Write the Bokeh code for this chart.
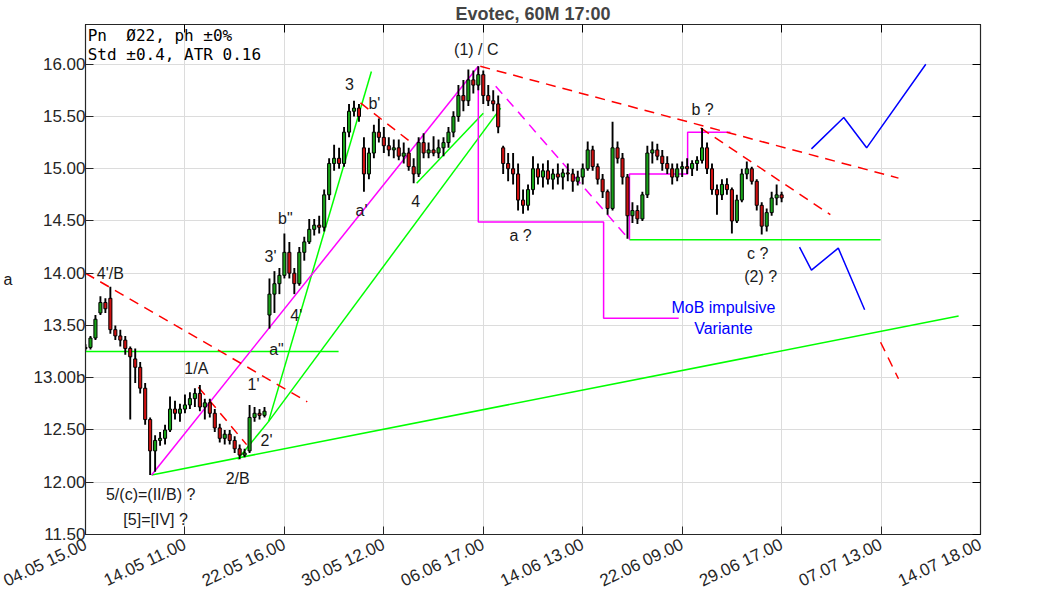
import numpy as np
from bokeh.plotting import figure
from bokeh.models import (FixedTicker, LinearAxis, Range1d, Label, ColumnDataSource,
                          CustomJSTickFormatter, NumeralTickFormatter)
from bokeh.core.properties import value
from bokeh.embed import file_html
from bokeh.resources import INLINE

# ---------------- data ----------------
opens = [13.29,13.29,13.38,13.62,13.72,13.76,13.46,13.40,13.36,13.28,
         13.18,13.10,12.90,12.60,12.30,12.40,12.42,12.50,12.70,12.66,
         12.70,12.74,12.80,12.85,12.72,12.76,12.66,12.52,12.42,12.46,
         12.40,12.32,12.26,12.30,12.62,12.66,12.64,13.60,13.80,13.90,
         13.98,14.20,14.00,13.90,14.20,14.30,14.42,14.46,14.44,14.75,
         15.05,15.10,15.05,15.35,15.55,15.58,15.20,14.95,15.15,15.35,
         15.30,15.22,15.18,15.20,15.12,15.15,15.02,14.95,15.25,15.15,
         15.18,15.15,15.20,15.25,15.35,15.50,15.70,15.65,15.85,15.80,
         15.90,15.70,15.65,15.62,15.20,15.05,15.00,14.95,14.70,14.65,
         14.80,15.00,14.92,14.98,14.90,14.95,14.92,14.96,14.95,14.88,
         14.92,15.00,15.18,15.02,14.90,14.78,14.62,15.20,15.10,14.92,
         14.55,14.60,14.52,14.75,15.15,15.18,15.12,15.05,15.00,14.92,
         15.00,15.02,15.00,15.05,15.08,15.20,15.00,14.80,14.75,14.85,
         14.80,14.50,14.70,14.95,15.00,14.88,14.65,14.45,14.58,14.72,
         14.75]
highs = [13.32,13.40,13.60,13.78,13.76,13.87,13.50,13.46,13.40,13.30,
         13.28,13.15,12.95,12.62,12.45,12.48,12.55,12.82,12.78,12.75,
         12.84,12.86,12.90,12.93,12.80,12.80,12.70,12.56,12.50,12.50,
         12.44,12.36,12.32,12.74,12.72,12.70,12.72,13.95,14.02,14.05,
         14.38,14.30,14.05,14.25,14.35,14.52,14.52,14.55,14.80,15.10,
         15.23,15.20,15.40,15.62,15.65,15.62,15.30,15.20,15.42,15.48,
         15.40,15.30,15.28,15.28,15.25,15.20,15.10,15.30,15.34,15.25,
         15.31,15.28,15.30,15.40,15.55,15.80,15.85,15.95,15.94,15.98,
         15.94,15.80,15.75,15.70,15.22,15.15,15.15,15.05,14.80,14.85,
         15.12,15.05,15.05,15.08,15.00,15.05,15.00,15.05,15.00,14.98,
         15.05,15.26,15.22,15.05,14.95,14.80,15.45,15.26,15.15,14.95,
         14.68,14.65,14.78,15.22,15.26,15.24,15.18,15.12,15.05,15.05,
         15.07,15.10,15.08,15.12,15.39,15.25,15.05,14.85,14.90,14.91,
         14.82,14.75,15.00,15.07,15.02,14.90,14.68,14.62,14.78,14.85,
         14.78]
lows = [13.26,13.27,13.36,13.60,13.62,13.42,13.36,13.30,13.22,12.60,
        12.95,12.85,12.55,12.07,12.10,12.35,12.36,12.48,12.60,12.58,
        12.66,12.70,12.72,12.68,12.60,12.62,12.48,12.38,12.36,12.36,
        12.28,12.22,12.24,12.28,12.58,12.60,12.62,13.47,13.62,13.80,
        13.95,13.95,13.80,13.88,14.12,14.28,14.36,14.38,14.40,14.70,
        14.98,15.00,15.02,15.30,15.50,15.45,14.78,14.90,15.10,15.25,
        15.15,15.12,15.10,15.08,15.05,14.98,14.86,14.92,15.10,15.10,
        15.12,15.10,15.12,15.20,15.30,15.45,15.55,15.60,15.72,15.75,
        15.62,15.60,15.55,15.34,14.95,14.88,14.85,14.60,14.57,14.60,
        14.75,14.85,14.82,14.85,14.80,14.85,14.80,14.88,14.78,14.84,
        14.85,14.98,14.98,14.85,14.72,14.56,14.60,15.05,14.85,14.33,
        14.48,14.47,14.50,14.72,15.05,15.08,14.98,14.95,14.85,14.88,
        14.92,14.95,14.93,14.98,15.05,14.95,14.75,14.56,14.70,14.75,
        14.38,14.48,14.68,14.90,14.85,14.60,14.37,14.40,14.55,14.65,
        14.68]
closes = [13.28,13.38,13.56,13.72,13.66,13.46,13.40,13.36,13.28,13.20,
          13.10,12.90,12.60,12.30,12.40,12.42,12.50,12.70,12.66,12.70,
          12.74,12.80,12.85,12.72,12.76,12.66,12.52,12.42,12.46,12.40,
          12.32,12.26,12.28,12.62,12.66,12.64,12.68,13.80,13.90,13.98,
          14.20,14.00,13.90,14.20,14.30,14.42,14.46,14.44,14.75,15.05,
          15.10,15.05,15.35,15.55,15.58,15.50,14.95,15.15,15.35,15.30,
          15.22,15.18,15.20,15.12,15.15,15.02,14.95,15.25,15.15,15.18,
          15.15,15.20,15.25,15.35,15.50,15.70,15.65,15.85,15.80,15.90,
          15.70,15.65,15.62,15.40,15.05,15.00,14.95,14.70,14.65,14.80,
          15.00,14.92,14.98,14.90,14.95,14.92,14.96,14.95,14.88,14.92,
          15.00,15.18,15.02,14.90,14.78,14.62,15.20,15.10,14.92,14.55,
          14.60,14.52,14.75,15.15,15.18,15.12,15.05,15.00,14.92,15.00,
          15.02,15.00,15.05,15.08,15.20,15.00,14.80,14.75,14.85,14.80,
          14.50,14.70,14.95,15.00,14.88,14.65,14.45,14.58,14.72,14.75,
          14.72]

x_ticks = [0, 20, 40, 60, 80, 100, 120, 140, 160, 180]
x_labels = ["04.05 15.00", "14.05 11.00", "22.05 16.00", "30.05 12.00", "06.06 17.00",
            "14.06 13.00", "22.06 09.00", "29.06 17.00", "07.07 13.00", "14.07 18.00"]
y_ticks = [11.5, 12.0, 12.5, 13.0, 13.5, 14.0, 14.5, 15.0, 15.5, 16.0]

# trend lines (data units)
red_x = [[0, 44.6], [22.7, 32.4], [55.3, 65.8], [79.4, 163.5], [123.7, 149.8], [159.9, 163.5]]
red_y = [[14.00, 12.77], [12.91, 12.36], [15.63, 15.24], [15.98, 14.91], [15.39, 14.56], [13.34, 12.99]]
green_x = [[0, 50.9], [13.3, 175.6], [30.6, 36.8], [36.8, 83.5], [36.8, 57.5], [66.6, 80.0], [109.4, 159.9]]
green_y = [[13.25, 13.25], [12.07, 13.59], [12.22, 12.58], [12.58, 15.58], [12.58, 15.93], [14.86, 15.53], [14.32, 14.32]]
mag_x = [[13.3, 79.0], [79.0, 79.0, 104.2, 104.2, 119.3], [109.4, 109.4, 121.1, 121.1, 129.7]]
mag_y = [[12.07, 15.98], [15.98, 14.49, 14.49, 13.57, 13.57], [14.32, 14.95, 14.95, 15.35, 15.35]]
magdash_x = [82.5, 109.4]
magdash_y = [15.79, 14.32]
blue_x = [[146.0, 152.5, 157.1, 169.0], [143.6, 146.0, 151.4, 156.7]]
blue_y = [[15.19, 15.49, 15.20, 16.00], [14.25, 14.03, 14.24, 13.65]]

lab_text = ["4'/B", "1/A", "1'", "2'", "2/B", "5/(c)=(II/B) ?", "[5]=[IV] ?", 'a"', "4'", "3'",
            'b"', "3", "b'", "a'", "4", "(1) / C", "a ?", "b ?", "c ?", "(2) ?"]
lab_x = [5.0, 22.3, 33.8, 36.4, 30.6, 13.1, 14.1, 38.4, 42.4, 37.2,
         40.2, 53.1, 58.1, 55.5, 66.4, 78.6, 87.5, 124.1, 135.2, 135.8]
lab_y = [14.00, 13.09, 12.94, 12.40, 12.04, 11.88, 11.64, 13.27, 13.60, 14.16,
         14.52, 15.81, 15.62, 14.60, 14.69, 16.14, 14.36, 15.57, 14.19, 13.97]
blue_text = ["MoB impulsive", "Variante"]
blue_tx = [128.3, 128.3]
blue_ty = [13.67, 13.47]
info_lines = ["Pn\u00a0\u00a0Ø22, ph ±0%", "Std ±0.4, ATR 0.16"]
y_side_label = "a"
y_label_overrides = {13.0: "13.00b"}

# ---------------- figure ----------------
FONT = "Liberation Sans"
p = figure(frame_width=895, frame_height=510, output_backend="svg", toolbar_location=None,
           x_range=Range1d(0, 180), y_range=Range1d(11.5, 16.38),
           min_border_left=84, min_border_right=73, min_border_top=22, min_border_bottom=40,
           title="Evotec, 60M 17:00")
p.title.align = "center"
p.title.text_font = FONT
p.title.text_font_size = "18px"
p.title.text_font_style = "bold"
p.title.standoff = 2
p.outline_line_color = "#262626"
p.outline_line_width = 1.2
p.background_fill_color = "white"
p.border_fill_color = "white"

for ax in (p.xaxis[0], p.yaxis[0]):
    ax.major_tick_in = 8
    ax.major_tick_out = 0
    ax.minor_tick_line_color = None
    ax.axis_line_color = "#262626"
    ax.major_tick_line_color = "#262626"
    ax.major_label_text_font = FONT
    ax.major_label_text_color = "#262626"

p.xaxis.major_label_text_font_size = "17px"
p.yaxis.major_label_text_font_size = "17px"
p.xaxis.ticker = FixedTicker(ticks=x_ticks)
p.xaxis.major_label_overrides = {t: l for t, l in zip(x_ticks, x_labels)}
p.xaxis.major_label_orientation = 0.44
p.xaxis.major_label_standoff = 9
p.yaxis.ticker = FixedTicker(ticks=y_ticks)
p.yaxis.formatter = NumeralTickFormatter(format="0.00")
p.yaxis.major_label_overrides = y_label_overrides
p.yaxis.major_label_standoff = 0
p.yaxis.axis_label = y_side_label
p.yaxis.axis_label_orientation = "horizontal"
p.yaxis.axis_label_text_font = FONT
p.yaxis.axis_label_text_font_style = "normal"
p.yaxis.axis_label_text_font_size = "16px"
p.yaxis.axis_label_text_color = "#1a1a1a"
p.yaxis.axis_label_standoff = 18

blank = CustomJSTickFormatter(code="return ''")
right = LinearAxis(ticker=FixedTicker(ticks=y_ticks), formatter=blank, major_tick_in=8,
                   major_tick_out=0, minor_tick_line_color=None, axis_line_color="#262626",
                   major_label_standoff=0)
top = LinearAxis(ticker=FixedTicker(ticks=x_ticks), formatter=blank, major_tick_in=8,
                 major_tick_out=0, minor_tick_line_color=None, axis_line_color="#262626",
                 major_label_standoff=0)
p.add_layout(right, "right")
p.add_layout(top, "above")

p.xgrid.ticker = FixedTicker(ticks=x_ticks)
p.ygrid.ticker = FixedTicker(ticks=y_ticks)
p.grid.grid_line_color = "#dcdcdc"
p.grid.grid_line_width = 1

# trend lines
p.multi_line(green_x, green_y, line_color="#00ff00", line_width=1.5)
p.multi_line(mag_x, mag_y, line_color="#ff00ff", line_width=1.5)
p.line(magdash_x, magdash_y, line_color="#ff00ff", line_width=1.5, line_dash="10 7")
p.multi_line(red_x, red_y, line_color="#ff0000", line_width=1.5, line_dash="10 7")
p.multi_line(blue_x, blue_y, line_color="#0000ff", line_width=1.5)

# candles
idx = list(range(len(closes)))
top_b = [max(o, c) for o, c in zip(opens, closes)]
bot_b = [min(o, c) for o, c in zip(opens, closes)]
cols = ["#17a317" if c >= o else "#d01010" for o, c in zip(opens, closes)]
src = ColumnDataSource(dict(x=idx, h=highs, l=lows, t=top_b, b=bot_b, col=cols))
p.segment(x0="x", y0="l", x1="x", y1="h", source=src, line_color="black", line_width=1.9)
p.vbar(x="x", width=0.62, top="t", bottom="b", fill_color="col", line_color="black",
       line_width=1, source=src)

# labels
p.text(x=lab_x, y=lab_y, text=lab_text, text_align="center", text_baseline="middle",
       text_font=value(FONT), text_font_size="16px", text_color="#1a1a1a")
p.text(x=blue_tx, y=blue_ty, text=blue_text, text_align="center", text_baseline="middle",
       text_font=value(FONT), text_font_size="16px", text_color="#0000ff")

p.add_layout(Label(x=0.45, y=16.37, text=info_lines[0], text_font="DejaVu Sans Mono",
                   text_font_size="16px", text_baseline="top", text_color="black"))
p.add_layout(Label(x=0.45, y=16.18, text=info_lines[1], text_font="DejaVu Sans Mono",
                   text_font_size="16px", text_baseline="top", text_color="black"))

open("out.html", "w").write(file_html(p, INLINE))
